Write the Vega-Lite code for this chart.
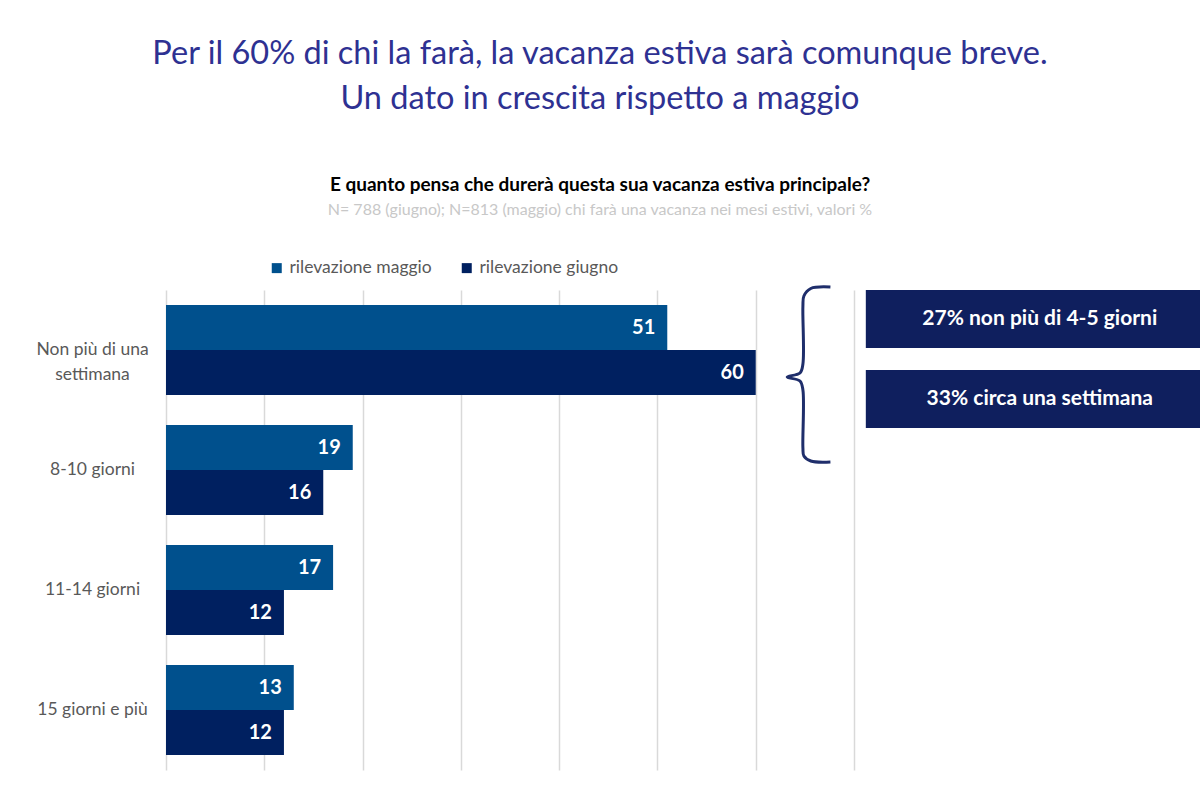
{
  "$schema": "https://vega.github.io/schema/vega-lite/v6.json",
  "width": 1034,
  "height": 480,
  "autosize": {"type": "none"},
  "padding": {"left": 166, "top": 290, "right": 0, "bottom": 30},
  "background": "white",
  "config": {"view": {"stroke": null}, "font": "Lato"},
  "title": {
    "text": ["Per il 60% di chi la farà, la vacanza estiva sarà comunque breve.", "Un dato in crescita rispetto a maggio"],
    "subtitle": "E quanto pensa che durerà questa sua vacanza estiva principale?",
    "anchor": "middle",
    "dx": -83,
    "offset": 7,
    "font": "Lato",
    "fontSize": 32.5,
    "fontWeight": "normal",
    "color": "#2E3192",
    "lineHeight": 45,
    "subtitleFont": "Lato",
    "subtitleFontSize": 19,
    "subtitleFontWeight": "bold",
    "subtitleColor": "#000000",
    "subtitlePadding": 61
  },
  "datasets": {
    "bars": [
      {"cat": "Non più di una settimana", "serie": "rilevazione maggio", "val": 51},
      {"cat": "Non più di una settimana", "serie": "rilevazione giugno", "val": 60},
      {"cat": "8-10 giorni", "serie": "rilevazione maggio", "val": 19},
      {"cat": "8-10 giorni", "serie": "rilevazione giugno", "val": 16},
      {"cat": "11-14 giorni", "serie": "rilevazione maggio", "val": 17},
      {"cat": "11-14 giorni", "serie": "rilevazione giugno", "val": 12},
      {"cat": "15 giorni e più", "serie": "rilevazione maggio", "val": 13},
      {"cat": "15 giorni e più", "serie": "rilevazione giugno", "val": 12}
    ],
    "boxes": [
      {"x1": 71.2, "x2": 105.2, "y1": 0, "y2": 5.8, "xt": 88.9, "yt": 2.9, "label": "27% non più di 4-5 giorni"},
      {"x1": 71.2, "x2": 105.2, "y1": 8, "y2": 13.8, "xt": 88.9, "yt": 10.9, "label": "33% circa una settimana"}
    ],
    "brace": [
      {"i": 1, "x": 67.6, "y": -0.3},
      {"i": 2, "x": 65.6, "y": -0.15},
      {"i": 3, "x": 64.9, "y": 0.6},
      {"i": 4, "x": 64.8, "y": 1.6},
      {"i": 5, "x": 64.8, "y": 7.4},
      {"i": 6, "x": 64.5, "y": 8.3},
      {"i": 7, "x": 63.2, "y": 8.7},
      {"i": 8, "x": 64.5, "y": 9.1},
      {"i": 9, "x": 64.8, "y": 10.0},
      {"i": 10, "x": 64.8, "y": 15.8},
      {"i": 11, "x": 64.9, "y": 16.6},
      {"i": 12, "x": 65.6, "y": 17.1},
      {"i": 13, "x": 67.6, "y": 17.2}
    ],
    "note": [
      {"x": 44.15, "y": -8, "label": "N= 788  (giugno); N=813 (maggio) chi farà una vacanza nei mesi estivi, valori %"}
    ]
  },
  "layer": [
    {
      "data": {"name": "bars"},
      "mark": {"type": "bar"},
      "encoding": {
        "y": {
          "field": "cat", "type": "nominal",
          "sort": ["Non più di una settimana", "8-10 giorni", "11-14 giorni", "15 giorni e più"],
          "scale": {"paddingInner": 0.25, "paddingOuter": 0.125},
          "axis": {
            "title": null, "ticks": false, "domain": false,
            "labelAlign": "center", "labelPadding": 74,
            "labelFont": "Lato", "labelFontSize": 17.5, "labelColor": "#595959",
            "labelLineHeight": 25,
            "labelExpr": "datum.value == 'Non più di una settimana' ? ['Non più di una', 'settimana'] : datum.label"
          }
        },
        "yOffset": {
          "field": "serie", "type": "nominal",
          "sort": ["rilevazione maggio", "rilevazione giugno"],
          "scale": {"paddingInner": 0, "paddingOuter": 0}
        },
        "x": {
          "field": "val", "type": "quantitative",
          "scale": {"domain": [0, 105.2], "nice": false},
          "axis": {
            "values": [0, 10, 20, 30, 40, 50, 60, 70],
            "grid": true, "gridColor": "#D9D9D9", "gridWidth": 1.5,
            "labels": false, "ticks": false, "domain": false, "title": null
          }
        },
        "color": {
          "field": "serie", "type": "nominal",
          "sort": ["rilevazione maggio", "rilevazione giugno"],
          "scale": {"range": ["#00508D", "#002060"]},
          "legend": {
            "orient": "none", "legendX": 102, "legendY": -31,
            "direction": "horizontal", "title": null,
            "symbolType": "square", "symbolSize": 100, "symbolStrokeWidth": 0,
            "labelFont": "Lato", "labelFontSize": 17.5, "labelColor": "#595959",
            "columnPadding": 26
          }
        }
      }
    },
    {
      "data": {"name": "bars"},
      "mark": {"type": "text", "align": "right", "baseline": "middle", "dx": -12, "color": "white", "fontWeight": "bold", "fontSize": 20, "font": "Lato"},
      "encoding": {
        "y": {"field": "cat", "type": "nominal", "sort": ["Non più di una settimana", "8-10 giorni", "11-14 giorni", "15 giorni e più"], "scale": {"paddingInner": 0.25, "paddingOuter": 0.125}, "axis": null},
        "yOffset": {"field": "serie", "type": "nominal", "sort": ["rilevazione maggio", "rilevazione giugno"], "scale": {"paddingInner": 0, "paddingOuter": 0}},
        "x": {"field": "val", "type": "quantitative", "scale": {"domain": [0, 105.2], "nice": false}},
        "text": {"field": "val", "type": "quantitative"}
      }
    },
    {
      "data": {"name": "boxes"},
      "mark": {"type": "rect", "color": "#0F1F5E"},
      "encoding": {
        "x": {"field": "x1", "type": "quantitative", "scale": {"domain": [0, 105.2], "nice": false}},
        "x2": {"field": "x2"},
        "y": {"field": "y1", "type": "quantitative", "scale": {"domain": [0, 48], "reverse": true, "nice": false, "zero": false}, "axis": null},
        "y2": {"field": "y2"}
      }
    },
    {
      "data": {"name": "boxes"},
      "mark": {"type": "text", "align": "center", "baseline": "middle", "color": "white", "fontWeight": "bold", "fontSize": 21, "font": "Lato"},
      "encoding": {
        "x": {"field": "xt", "type": "quantitative", "scale": {"domain": [0, 105.2], "nice": false}},
        "y": {"field": "yt", "type": "quantitative", "scale": {"domain": [0, 48], "reverse": true, "nice": false, "zero": false}, "axis": null},
        "text": {"field": "label"}
      }
    },
    {
      "data": {"name": "brace"},
      "mark": {"type": "line", "color": "#1F2E6B", "strokeWidth": 3, "interpolate": "catmull-rom"},
      "encoding": {
        "x": {"field": "x", "type": "quantitative", "scale": {"domain": [0, 105.2], "nice": false}},
        "y": {"field": "y", "type": "quantitative", "scale": {"domain": [0, 48], "reverse": true, "nice": false, "zero": false}, "axis": null},
        "order": {"field": "i", "type": "quantitative"}
      }
    },
    {
      "data": {"name": "note"},
      "mark": {"type": "text", "align": "center", "baseline": "middle", "color": "#C8C8C8", "fontSize": 16, "font": "Lato"},
      "encoding": {
        "x": {"field": "x", "type": "quantitative", "scale": {"domain": [0, 105.2], "nice": false}},
        "y": {"field": "y", "type": "quantitative", "scale": {"domain": [0, 48], "reverse": true, "nice": false, "zero": false}, "axis": null},
        "text": {"field": "label"}
      }
    }
  ],
  "resolve": {"scale": {"y": "independent"}}
}
